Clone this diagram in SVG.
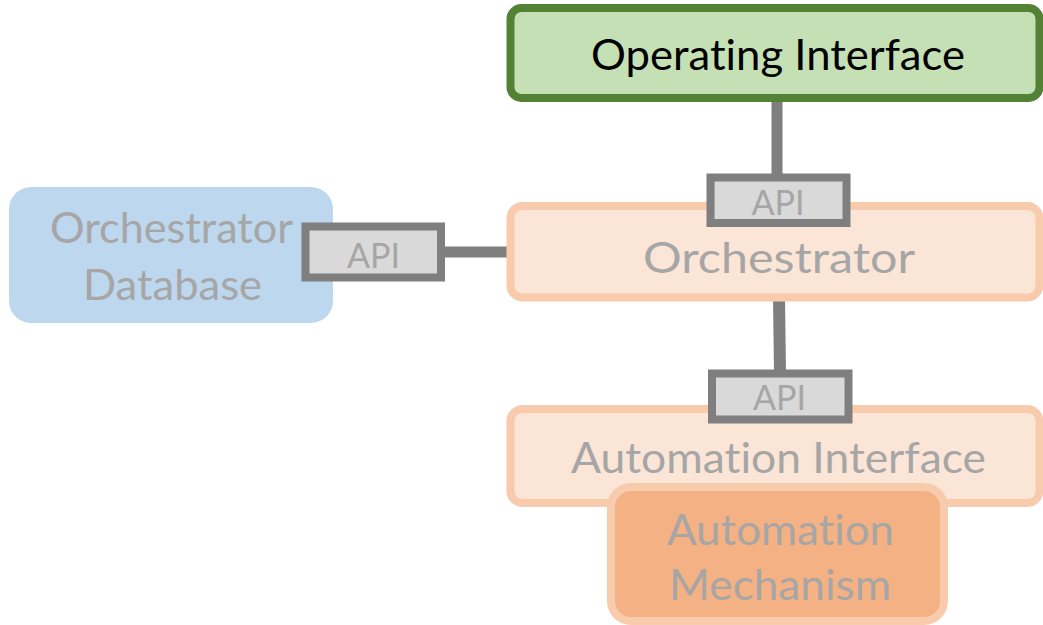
<svg xmlns="http://www.w3.org/2000/svg" width="1043" height="625" viewBox="0 0 1043 625">
  <style>
    text { font-family: Lato, "Open Sans", "Liberation Sans", sans-serif; text-anchor: middle; font-variant-ligatures: none; font-feature-settings: "liga" 0, "clig" 0; }
    .lbl { font-size: 43px; fill: #a6a6a6; }
    .dark { fill: #000000; }
    .api-box { fill: #d9d9d9; stroke: #7f7f7f; stroke-width: 8; }
    .api-txt { font-size: 35px; fill: #a6a6a6; }
    .link { stroke: #7f7f7f; stroke-width: 11; fill: none; }
    .peach { fill: #fbe5d6; stroke: #f8cbad; stroke-width: 8; }
  </style>

  <!-- connectors between nodes -->
  <g id="connectors">
    <line class="link" x1="777" y1="98" x2="777" y2="178"/>
    <line class="link" x1="779" y1="297" x2="780" y2="374" style="stroke-width:12"/>
    <line class="link" x1="440" y1="252" x2="511" y2="252"/>
  </g>

  <g id="operating-interface">
    <rect x="510.5" y="8" width="529" height="90" rx="11" fill="#c5e0b4" stroke="#548235" stroke-width="8"/>
    <text class="lbl dark" x="778" y="70" textLength="374" lengthAdjust="spacingAndGlyphs">Operating Interface</text>
  </g>

  <g id="orchestrator-database">
    <rect x="9" y="187" width="324" height="136" rx="22" fill="#bdd7ee"/>
    <text class="lbl" x="171.5" y="243" textLength="243" lengthAdjust="spacingAndGlyphs">Orchestrator</text>
    <text class="lbl" x="172.5" y="300" textLength="179" lengthAdjust="spacingAndGlyphs">Database</text>
  </g>

  <g id="orchestrator">
    <rect class="peach" x="510.5" y="206" width="529" height="91.5" rx="12"/>
    <text class="lbl" x="779" y="273" textLength="272" lengthAdjust="spacingAndGlyphs">Orchestrator</text>
  </g>

  <g id="automation-interface">
    <rect class="peach" x="510.5" y="409" width="529" height="94" rx="12"/>
    <text class="lbl" x="778.5" y="473" textLength="415" lengthAdjust="spacingAndGlyphs">Automation Interface</text>
  </g>

  <g id="automation-mechanism">
    <rect x="611" y="487" width="333" height="134" rx="20" fill="#f4b183" stroke="#f8cbad" stroke-width="8"/>
    <text class="lbl" x="780.5" y="545" textLength="227" lengthAdjust="spacingAndGlyphs">Automation</text>
    <text class="lbl" x="780" y="600" textLength="222" lengthAdjust="spacingAndGlyphs">Mechanism</text>
  </g>

  <g id="api-operating">
    <rect class="api-box" x="710.5" y="177.5" width="136" height="45.5"/>
    <text class="api-txt" x="778" y="215" textLength="53" lengthAdjust="spacingAndGlyphs">API</text>
  </g>

  <g id="api-database">
    <rect class="api-box" x="305.5" y="226.5" width="135.5" height="51"/>
    <text class="api-txt" x="373.5" y="268" textLength="53" lengthAdjust="spacingAndGlyphs">API</text>
  </g>

  <g id="api-automation">
    <rect class="api-box" x="712" y="373.5" width="136.5" height="46"/>
    <text class="api-txt" x="779.5" y="410" textLength="53" lengthAdjust="spacingAndGlyphs">API</text>
  </g>
</svg>
